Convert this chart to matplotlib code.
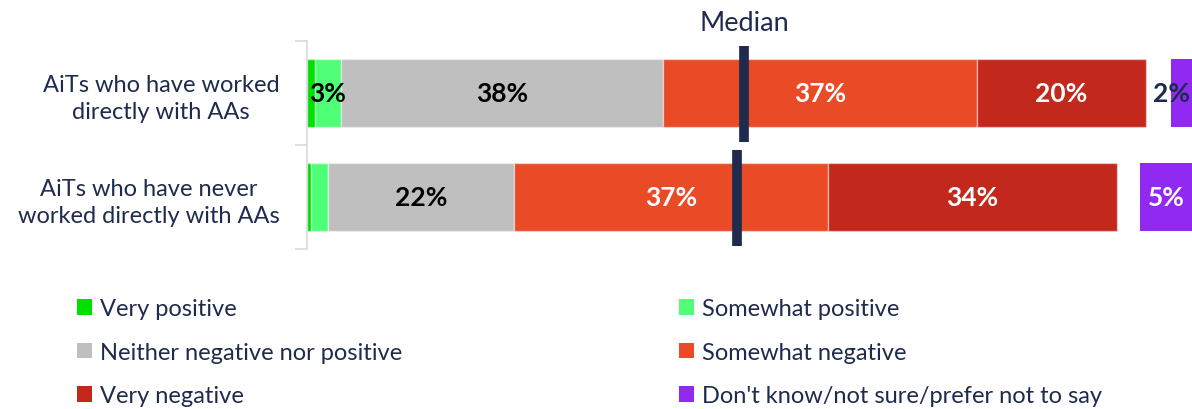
import numpy as np
import matplotlib
matplotlib.use('Agg')
import matplotlib.pyplot as plt
from matplotlib.patches import Patch

plt.rcParams['font.family'] = ['Lato', 'DejaVu Sans']

# survey data (percent of respondents)
groups = ['AiTs who have worked\ndirectly with AAs',
          'AiTs who have never\nworked directly with AAs']
very_pos = [1, 0.5]
some_pos = [3, 2]
neither = [38, 22]
some_neg = [37, 37]
very_neg = [20, 34]
dont_know = [2, 5]
median = [51.6, 50.8]

names = ['Very positive', 'Somewhat positive', 'Neither negative nor positive',
         'Somewhat negative', 'Very negative', "Don't know/not sure/prefer not to say"]
colors = ['#00E000', '#50FF78', '#BFBFBF', '#E94B26', '#C3281C', '#9129F2']
navy = '#1F2B4D'

W, H = 1192, 410
fig = plt.figure(figsize=(W / 100, H / 100), dpi=100)

# main stacked bar axes
x0, x1 = 306.7, 1192
y_top, y_bot = 42, 250
ax = fig.add_axes([x0 / W, 1 - y_bot / H, (x1 - x0) / W, (y_bot - y_top) / H])
ax.set_xlim(0, (x1 - x0) / 8.48)
ax.set_ylim(1.5, -0.5)

y = np.arange(len(groups))
series = [very_pos, some_pos, neither, some_neg, very_neg]
label_colors = ['black', 'black', 'black', 'white', 'white']
left = np.zeros(len(groups))
for vals, col, tc in zip(series, colors, label_colors):
    vals = np.array(vals, dtype=float)
    ax.barh(y, vals, left=left, height=0.66, color=col,
            edgecolor=(1, 1, 1, 0.45), linewidth=1)
    for yi, v, l in zip(y, vals, left):
        if v >= 3:
            ax.text(l + v / 2, yi, f'{v:.0f}%', ha='center', va='center',
                    fontsize=19, fontweight='bold', color=tc)
    left += vals

# median markers
for yi, m in zip(y, median):
    ax.plot([m, m], [yi - 0.45, yi + 0.47], color=navy, lw=7,
            solid_capstyle='butt', zorder=5)
ax.text(median[0], -0.68, 'Median', ha='center', va='center',
        fontsize=19.5, color=navy)

for s in ['top', 'right', 'bottom']:
    ax.spines[s].set_visible(False)
ax.spines['left'].set_color('#D9D9D9')
ax.spines['left'].set_linewidth(1.2)
ax.set_xticks([])
ax.set_yticks([-0.5, 0.5, 1.5])
ax.set_yticklabels([])
ax.tick_params(axis='y', which='major', length=9, color='#D9D9D9', width=1.2)
ax.set_yticks(y, minor=True)
ax.set_yticklabels(groups, minor=True, fontsize=17, color=navy,
                   multialignment='center', linespacing=1.35)
ax.tick_params(axis='y', which='minor', length=0, pad=19.5)

# don't know bars, right aligned at the edge
ax2 = fig.add_axes([1100 / W, 1 - y_bot / H, 92 / W, (y_bot - y_top) / H])
ax2.set_xlim(8.9, 0)
ax2.set_ylim(1.5, -0.5)
ax2.barh(y, dont_know, height=0.66, color=colors[5])
for yi, v in zip(y, dont_know):
    if v >= 3:
        ax2.text(v / 2, yi, f'{v}%', ha='center', va='center',
                 fontsize=19, fontweight='bold', color='white')
    else:
        ax2.text(v, yi, f'{v}%', ha='center', va='center',
                 fontsize=19, fontweight='bold', color=navy)
ax2.axis('off')

# legend in two columns
handles = [Patch(facecolor=c) for c in colors]
leg_kw = dict(frameon=False, fontsize=17, handlelength=0.64, handleheight=0.64,
              handletextpad=0.35, labelspacing=0.96, borderpad=0, borderaxespad=0,
              loc='upper left', labelcolor=navy)
fig.legend([handles[i] for i in (0, 2, 4)], [names[i] for i in (0, 2, 4)],
           bbox_to_anchor=(77 / W, 1 - 299 / H), **leg_kw)
fig.legend([handles[i] for i in (1, 3, 5)], [names[i] for i in (1, 3, 5)],
           bbox_to_anchor=(679 / W, 1 - 299 / H), **leg_kw)

fig.savefig('out.png', dpi=100)
